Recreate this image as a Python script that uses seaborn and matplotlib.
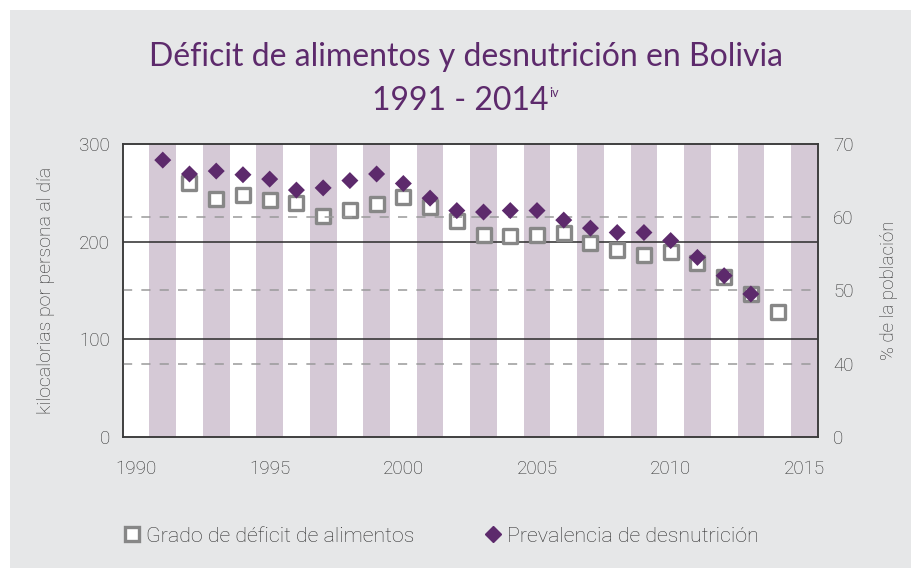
import matplotlib
matplotlib.use("Agg")
import matplotlib.pyplot as plt
from matplotlib.patches import Rectangle
from matplotlib.lines import Line2D
import seaborn as sns
import pandas as pd
import numpy as np

# datos
anios_deficit = [1992, 1993, 1994, 1995, 1996, 1997, 1998, 1999, 2000, 2001, 2002,
                 2003, 2004, 2005, 2006, 2007, 2008, 2009, 2010, 2011, 2012, 2013, 2014]
deficit_kcal = [260, 244, 248, 243, 240, 226, 232, 238, 246, 235, 221,
                207, 206, 207, 209, 199, 191, 186, 189, 178, 164, 146, 128]

anios_desnut = [1991, 1992, 1993, 1994, 1995, 1996, 1997, 1998, 1999, 2000, 2001, 2002,
                2003, 2004, 2005, 2006, 2007, 2008, 2009, 2010, 2011, 2012, 2013]
desnut_pct = [67.8, 65.9, 66.3, 65.8, 65.2, 63.7, 64.0, 65.0, 65.9, 64.6, 62.6, 60.9,
              60.7, 60.9, 60.9, 59.6, 58.5, 57.9, 57.9, 56.8, 54.5, 52.0, 49.5]

x_ticks = [1990, 1995, 2000, 2005, 2010, 2015]
y_left_ticks = [0, 100, 200, 300]
y_right_ticks = [30, 40, 50, 60, 70]
y_right_labels = ["0", "40", "50", "60", "70"]

df_def = pd.DataFrame({"anio": anios_deficit, "kcal": deficit_kcal})
df_des = pd.DataFrame({"anio": anios_desnut, "pct": desnut_pct})

sns.set_style("white")
plt.rcParams["font.family"] = ["Roboto", "DejaVu Sans"]
plt.rcParams["font.weight"] = "light"
plt.rcParams["axes.labelweight"] = "light"

BG = "#e6e7e8"
BAND = "#d5c9d6"
PURPLE = "#5d2a6c"
GREY_SQ = "#878787"
TXT = "#2e2e2e"

fig = plt.figure(figsize=(9.12, 5.68), dpi=100, facecolor="white")
fig.patches.append(Rectangle((10 / 912, 0), 1, 1 - 10 / 568, transform=fig.transFigure,
                             facecolor=BG, edgecolor="none", zorder=-10))

ax = fig.add_axes([0.1345, 0.2312, 0.7621, 0.5153])
ax.set_facecolor("white")

# franjas de anios impares
for yr in range(1991, 2016, 2):
    ax.axvspan(yr - 0.5, yr + 0.5, color=BAND, lw=0, zorder=0)

ax.set_xlim(1989.5, 2015.5)
ax.set_ylim(0, 300)
for v in [100, 200]:
    ax.axhline(v, color="#2b2b2b", lw=1.1, zorder=1)

ax2 = ax.twinx()
ax2.set_ylim(30, 70)
for v in [40, 50, 60]:
    ax2.axhline(v, color="#9a9a9a", lw=1.1, ls=(0, (6, 6)), zorder=1)

sns.scatterplot(data=df_def, x="anio", y="kcal", ax=ax, marker="s", s=105,
                facecolor="white", edgecolor=GREY_SQ, linewidth=2.4, zorder=3)
sns.scatterplot(data=df_des, x="anio", y="pct", ax=ax2, marker="D", s=75,
                color=PURPLE, edgecolor="none", zorder=4)

ax.set_xticks(x_ticks)
ax.set_xticks(np.arange(1989.5, 2016, 1), minor=True)
ax.tick_params(axis="x", which="major", length=0, pad=17, labelsize=13.5, labelcolor=TXT)
ax.tick_params(axis="x", which="minor", length=14, width=1, color="#333333", direction="out")
ax.set_yticks(y_left_ticks)
ax.tick_params(axis="y", length=0, pad=9, labelsize=13.5, labelcolor=TXT)
ax2.set_yticks(y_right_ticks)
ax2.set_yticklabels(y_right_labels)
ax2.tick_params(axis="y", length=0, pad=11, labelsize=13.5, labelcolor=TXT)

for a in (ax, ax2):
    for sp in a.spines.values():
        sp.set_color("#3a3a3a")
        sp.set_linewidth(1.1)
        sp.set_visible(True)

ax.set_xlabel("")
ax.set_ylabel("kilocalorias por persona al día", fontsize=14, color=TXT, fontweight="light")
ax.yaxis.set_label_coords(-0.0974, 0.5)
ax2.set_ylabel("% de la población", fontsize=13.5, color=TXT, fontweight="light")
ax2.yaxis.set_label_coords(1.0897, 0.5)

handles = [
    Line2D([], [], ls="none", marker="s", markersize=10, markerfacecolor="white",
           markeredgecolor=GREY_SQ, markeredgewidth=2.4),
    Line2D([], [], ls="none", marker="D", markersize=8, color=PURPLE),
]
fig.legend(handles, ["Grado de déficit de alimentos", "Prevalencia de desnutrición"],
           loc="center", bbox_to_anchor=(440 / 912, 1 - 536 / 568), ncol=2, frameon=False,
           fontsize=15.4, handletextpad=0.15, columnspacing=3.2, handlelength=1.0,
           labelcolor=TXT)

# titulo
fig.text(466 / 912, 1 - 66 / 568, "Déficit de alimentos y desnutrición en Bolivia",
         ha="center", va="baseline", fontsize=23, color=PURPLE,
         family=["Lato", "DejaVu Sans"], fontweight="normal")
t2 = fig.text(460 / 912, 1 - 110 / 568, "1991 - 2014", ha="center", va="baseline",
              fontsize=23, color=PURPLE, family=["Lato", "DejaVu Sans"], fontweight="normal")
fig.canvas.draw()
bb = t2.get_window_extent()
fig.text((bb.x1 + 1) / 912, (bb.y1 - 11) / 568, "iv", ha="left", va="baseline",
         fontsize=9, color=PURPLE, family=["Lato", "DejaVu Sans"], fontweight="normal")

fig.savefig("out.png", dpi=100, facecolor=fig.get_facecolor())
